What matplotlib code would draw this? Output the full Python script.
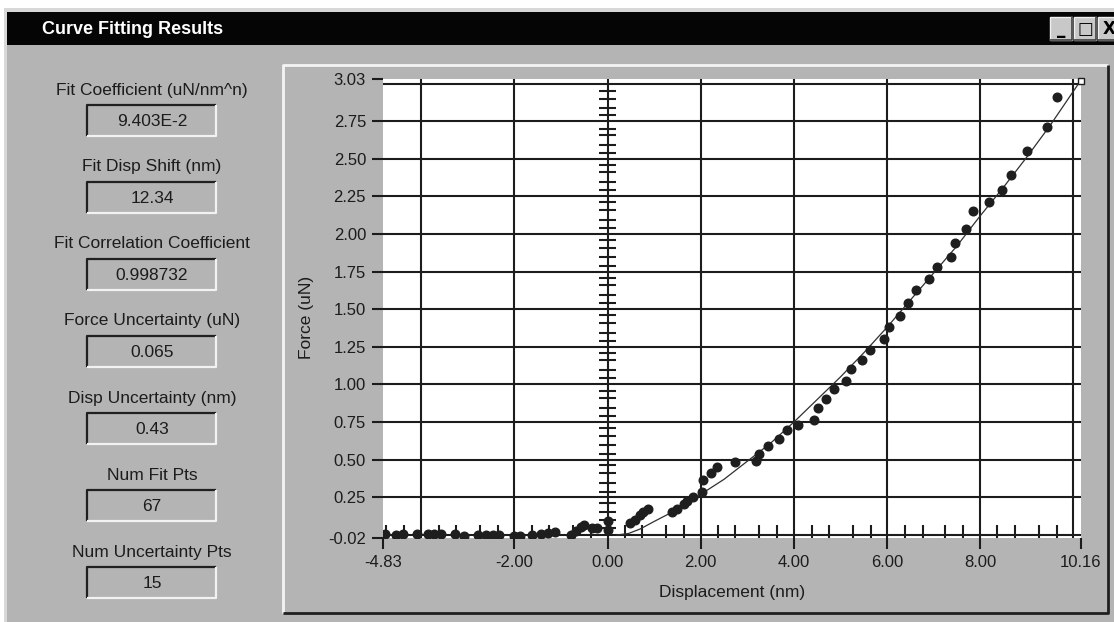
import matplotlib
matplotlib.use("Agg")
import matplotlib.pyplot as plt
from matplotlib.patches import Rectangle

plt.rcParams['font.family'] = ['Liberation Sans Narrow', 'Liberation Sans', 'DejaVu Sans']

# Result fields shown in the left panel
field_names = ["Fit Coefficient (uN/nm^n)", "Fit Disp Shift (nm)", "Fit Correlation Coefficient",
               "Force Uncertainty (uN)", "Disp Uncertainty (nm)", "Num Fit Pts", "Num Uncertainty Pts"]
field_values = ["9.403E-2", "12.34", "0.998732", "0.065", "0.43", "67", "15"]

# Measured points (nm, uN)
disp = [-4.78, -4.55, -4.40, -4.09, -3.85, -3.72, -3.58, -3.28, -3.08, -2.78, -2.62, -2.46, -2.33,
        -2.02, -1.88, -1.62, -1.43, -1.28, -1.13, -0.78, -0.68, -0.58, -0.50, -0.33, -0.22, 0.00, 0.00,
        0.48, 0.59, 0.70, 0.77, 0.87, 1.38, 1.48, 1.63, 1.70, 1.84, 2.02, 2.04, 2.21, 2.34, 2.74,
        3.19, 3.25, 3.45, 3.68, 3.86, 4.09, 4.44, 4.52, 4.70, 4.86, 5.12, 5.23, 5.46, 5.64, 5.94,
        6.05, 6.28, 6.46, 6.62, 6.91, 7.07, 7.37, 7.47, 7.70, 7.84, 8.19, 8.47, 8.66, 9.00, 9.44, 9.66]
force = [0.005, 0.0, 0.008, 0.005, 0.005, 0.004, 0.006, 0.004, -0.005, 0.0, 0.0, 0.0, -0.003,
         -0.006, -0.006, 0.0, 0.006, 0.01, 0.02, 0.0, 0.025, 0.055, 0.065, 0.045, 0.045, 0.034, 0.09,
         0.078, 0.10, 0.133, 0.155, 0.17, 0.155, 0.17, 0.206, 0.228, 0.25, 0.288, 0.366, 0.41, 0.454, 0.487,
         0.494, 0.536, 0.59, 0.64, 0.698, 0.731, 0.764, 0.846, 0.904, 0.97, 1.02, 1.10, 1.16, 1.23, 1.30,
         1.384, 1.455, 1.54, 1.63, 1.70, 1.78, 1.845, 1.94, 2.03, 2.15, 2.21, 2.29, 2.39, 2.55, 2.71, 2.91]

# Fitted curve
fit_x = [0.20, 0.45, 0.70, 1.00, 1.50, 2.00, 2.50, 3.00, 3.50, 4.00, 4.50, 5.00, 5.50, 6.00,
         6.50, 7.00, 7.50, 8.00, 8.50, 9.00, 9.50, 10.16]
fit_y = [0.00, 0.01, 0.04, 0.09, 0.17, 0.27, 0.37, 0.49, 0.61, 0.75, 0.90, 1.05, 1.21, 1.38,
         1.56, 1.74, 1.92, 2.12, 2.31, 2.51, 2.72, 3.02]

# Uncertainty tick marks on the axes
disp_unc_ticks = [-4.75, -4.37, -3.63, -3.26, -2.75, -2.36, -1.63, -1.26, -0.75, -0.36,
                  0.37, 0.74, 1.25, 1.64, 2.37, 2.74, 3.25, 3.64, 4.39, 4.75, 5.27, 5.66,
                  6.39, 6.78, 7.25, 7.64, 8.36, 8.75, 9.26, 9.65]
force_unc_ticks = [2.95, 2.90, 2.84, 2.79, 2.70, 2.66, 2.59, 2.54, 2.46, 2.41, 2.345, 2.29,
                   2.21, 2.16, 2.095, 2.04, 1.96, 1.91, 1.845, 1.79, 1.71, 1.66, 1.595, 1.54,
                   1.46, 1.41, 1.345, 1.29, 1.21, 1.16, 1.095, 1.04, 0.96, 0.91, 0.845, 0.79,
                   0.71, 0.66, 0.595, 0.54, 0.465, 0.41, 0.344, 0.288, 0.211, 0.155, 0.10, 0.045]

x_ticks = [-4.83, -2.00, 0.00, 2.00, 4.00, 6.00, 8.00, 10.16]
y_ticks = [-0.02, 0.25, 0.50, 0.75, 1.00, 1.25, 1.50, 1.75, 2.00, 2.25, 2.50, 2.75, 3.03]
x_grid = [-4, -2, 0, 2, 4, 6, 8, 10]
y_grid = [0, 0.25, 0.5, 0.75, 1.0, 1.25, 1.5, 1.75, 2.0, 2.25, 2.5, 2.75, 3.0]

W, H = 1114, 622
GRAY = "#b4b4b4"
DARK = "#1c1c1c"

fig = plt.figure(figsize=(W / 100, H / 100), dpi=100)
fig.patch.set_facecolor("white")

# window chrome drawn in pixel coordinates
bg = fig.add_axes([0, 0, 1, 1])
bg.set_xlim(0, W)
bg.set_ylim(H, 0)
bg.axis("off")

def rect(x0, y0, x1, y1, **kw):
    bg.add_patch(Rectangle((x0, y0), x1 - x0, y1 - y0, **kw))

rect(4, 8, W, H, color="#d8d8d8", lw=0)
rect(7, 12, W, H, color=GRAY, lw=0)
rect(7, 12, W, 45, color="#050505", lw=0)
bg.text(42, 29, "Curve Fitting Results", color="white", fontsize=13, fontweight="bold",
        va="center", ha="left")

# title bar buttons
for bx, glyph in zip([1050, 1074, 1098], ["_", "□", "X"]):
    rect(bx, 17, bx + 22, 40, facecolor="#c8c8c8", edgecolor="#f0f0f0", lw=1)
    bg.plot([bx, bx + 22, bx + 22], [40, 40, 17], color="#404040", lw=1.2)
    bg.text(bx + 11, 29, glyph, ha="center", va="center", fontsize=12,
            fontweight="bold", color="black", family="DejaVu Sans")

# left fields
for i, (name, val) in enumerate(zip(field_names, field_values)):
    ly = 90 + 77 * i
    bg.text(152, ly, name, ha="center", va="center", fontsize=12.5, color=DARK)
    by0, by1 = ly + 15, ly + 46
    rect(87, by0, 216, by1, color=GRAY, lw=0)
    bg.plot([87, 87, 216], [by1, by0, by0], color="#202020", lw=1.6, solid_capstyle="butt")
    bg.plot([87, 216, 216], [by1, by1, by0], color="#f2f2f2", lw=1.6, solid_capstyle="butt")
    bg.text(152, (by0 + by1) / 2 + 1, val, ha="center", va="center", fontsize=12.5, color=DARK)

# raised plot panel
rect(283, 65, 1108, 613, color=GRAY, lw=0)
bg.plot([283, 283, 1108], [613, 65, 65], color="#f4f4f4", lw=2, solid_capstyle="butt")
bg.plot([283, 1108, 1108], [613, 613, 65], color="#202020", lw=2, solid_capstyle="butt")

# plot area
left, right, top, bottom = 382.7, 1080.7, 79, 538
ax = fig.add_axes([left / W, 1 - bottom / H, (right - left) / W, (bottom - top) / H])
ax.set_facecolor("white")
ax.set_xlim(-4.83, 10.16)
ax.set_ylim(-0.02, 3.03)
for s in ax.spines.values():
    s.set_visible(False)

for gx in x_grid:
    ax.axvline(gx, color=DARK, lw=1.5, zorder=1)
for gy in y_grid:
    ax.axhline(gy, color=DARK, lw=1.5, zorder=1)

ax.vlines(disp_unc_ticks, -0.02, 0.065, color=DARK, lw=1.5, zorder=2)
ax.hlines(force_unc_ticks, -0.19, 0.19, color=DARK, lw=1.5, zorder=2)

ax.plot(fit_x, fit_y, color="#303030", lw=0.9, zorder=3)
ax.plot(fit_x[-1], fit_y[-1], marker="s", ms=4, mfc="white", mec=DARK, mew=1, clip_on=False, zorder=4)
ax.plot(disp, force, "o", ms=6.2, color="#1e1e1e", zorder=4)

ax.set_xticks(x_ticks)
ax.set_xticklabels(["%.2f" % v for v in x_ticks])
ax.set_yticks(y_ticks)
ax.set_yticklabels(["%.2f" % v for v in y_ticks])
ax.tick_params(direction="out", length=8, width=1.5, color=DARK, labelcolor=DARK,
               labelsize=12, pad=4)

ax.set_xlabel("Displacement (nm)", fontsize=12.5, color=DARK)
ax.xaxis.set_label_coords(0.5, -(592 - bottom) / (bottom - top))
ax.xaxis.label.set_va("center")
ax.set_ylabel("Force (uN)", fontsize=12.5, color=DARK)
ax.yaxis.set_label_coords((306 - left) / (right - left), 0.48)
ax.yaxis.label.set_va("center")

fig.savefig("out.png", dpi=100)
